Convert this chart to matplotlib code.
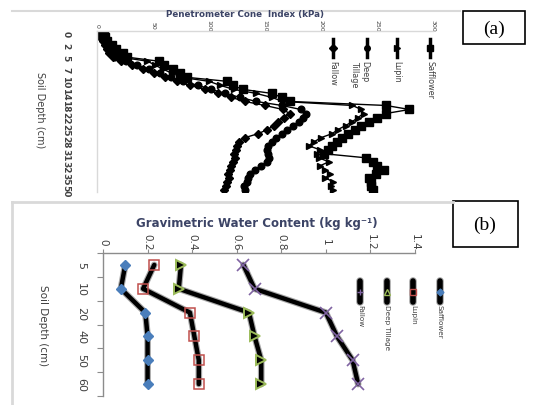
import matplotlib
matplotlib.use('Agg')
import matplotlib.pyplot as plt
import matplotlib.patheffects as pe
from matplotlib.lines import Line2D
from matplotlib.patches import Rectangle
import numpy as np

# ---------------- data ----------------
# Panel (a): penetrometer cone index (kPa) by depth category
depth_a_labels = ["0", "2", "5", "7", "10", "14", "18", "22", "25", "28", "31", "32", "35", "50"]
safflower_a = [6, 7, 9, 13, 17, 23, 27, 55, 60, 68, 74, 80, 116, 121, 130, 156, 165, 172, 258, 279,
               258, 250, 243, 236, 230, 224, 219, 214, 210, 206, 203, 240, 246, 250, 256, 249, 243, 245, 245, 246]
lupin_a = [4, 5, 7, 10, 13, 17, 21, 45, 52, 59, 67, 75, 100, 110, 122, 142, 156, 166, 228, 236,
           238, 233, 228, 222, 215, 210, 200, 194, 189, 199, 196, 198, 207, 199, 204, 208, 204, 211, 209, 211]
deep_a = [3, 4, 6, 8, 10, 13, 16, 26, 36, 46, 56, 66, 77, 90, 102, 114, 128, 142, 165, 182,
          187, 184, 180, 175, 170, 165, 160, 156, 153, 152, 153, 154, 152, 146, 141, 137, 135, 134, 131, 132]
fallow_a = [2, 3, 5, 7, 9, 11, 14, 21, 31, 41, 51, 61, 71, 83, 96, 108, 120, 132, 150, 166,
            172, 167, 162, 158, 152, 144, 132, 127, 125, 124, 122, 123, 121, 120, 119, 117, 118, 116, 115, 113]
cone_ticks = [0, 50, 100, 150, 200, 250, 300]

# Panel (b): gravimetric water content
depth_b = ["5", "10", "20", "40", "50", "60"]
safflower_b = [0.10, 0.08, 0.19, 0.20, 0.20, 0.20]
lupin_b = [0.23, 0.18, 0.39, 0.41, 0.43, 0.43]
deep_b = [0.35, 0.34, 0.655, 0.68, 0.71, 0.71]
fallow_b = [0.63, 0.68, 1.00, 1.05, 1.12, 1.145]
gwc_ticks = [0, 0.2, 0.4, 0.6, 0.8, 1.0, 1.2, 1.4]
gwc_tick_labels = ["0", "0.2", "0.4", "0.6", "0.8", "1", "1.2", "1.4"]

series_names = ["Safflower", "Lupin", "Deep Tillage", "Fallow"]

# ---------------- layout helpers ----------------
W, H = 545, 406
fig = plt.figure(figsize=(W / 100, H / 100), dpi=100)
PX = 72 / 100.0  # points per pixel


def fx(x):
    return x / W


def fy(y):
    return 1 - y / H


NARROW = ['Liberation Sans Narrow', 'DejaVu Sans']
GRAY = '#404040'
TITLE_C = '#3c4466'

# ---------------- panel (a) ----------------
axa = fig.add_axes([fx(97), fy(193), (433 - 97) / W, (193 - 32) / H])
ya = np.arange(len(safflower_a))
axa.plot(safflower_a, ya, color='k', lw=1.0, marker='s', ms=5.8, mfc='k', mec='k')
axa.plot(lupin_a, ya, color='k', lw=1.0, marker='>', ms=5.0, mfc='k', mec='k')
axa.plot(deep_a, ya, color='k', lw=1.0, marker='o', ms=4.8, mfc='k', mec='k')
axa.plot(fallow_a, ya, color='k', lw=1.0, marker='D', ms=4.0, mfc='k', mec='k')
axa.set_xlim(0, 300)
axa.set_ylim(len(ya) - 0.5, -0.5)
axa.xaxis.tick_top()
axa.set_xticks(cone_ticks)
axa.set_xticklabels([str(t) for t in cone_ticks], rotation=-90, va='center', ha='center',
                    fontsize=4.5, color=GRAY)
axa.tick_params(axis='x', length=0, pad=6 * PX)
axa.set_yticks(ya[::3])
axa.set_yticklabels(depth_a_labels, rotation=-90, va='center', ha='center', fontsize=6.5,
                    color=GRAY, family=NARROW, fontweight='bold')
axa.tick_params(axis='y', length=0, pad=31 * PX)
for s in ['right', 'bottom']:
    axa.spines[s].set_visible(False)
for s in ['top', 'left']:
    axa.spines[s].set_color('#d9d9d9')
    axa.spines[s].set_linewidth(1.0)

fig.text(fx(245), fy(15), "Penetrometer Cone  Index (kPa)", ha='center', va='center',
         fontsize=6.3, fontweight='bold', color=TITLE_C)
fig.text(fx(40), fy(110), "Soil Depth (cm)", rotation=-90, ha='center', va='center',
         fontsize=7, color=GRAY, family=NARROW)

# legend (a)
leg_a_x = [430, 397, 367, 333]
leg_a_markers = ['s', '>', 'o', 'D']
leg_a_text = ["Safflower", "Lupin", "Deep\nTillage", "Fallow"]
for x, m, t in zip(leg_a_x, leg_a_markers, leg_a_text):
    fig.add_artist(Line2D([fx(x), fx(x)], [fy(40), fy(58)], transform=fig.transFigure,
                          color='k', lw=2.5))
    fig.add_artist(Line2D([fx(x)], [fy(49)], transform=fig.transFigure, color='k',
                          marker=m, ms=4, mfc='k', mec='k', lw=0))
    tx = x if '\n' not in t else x - 7
    fig.text(fx(tx), fy(61), t, rotation=-90, ha='center', va='top', fontsize=5.8,
             color=GRAY, family=NARROW, multialignment='left')

# ---------------- panel (b) ----------------
axb = fig.add_axes([fx(103), fy(397), (415 - 103) / W, (397 - 254) / H])
yb = np.arange(len(depth_b))
shade = [pe.Stroke(linewidth=4.8, foreground='#a8a8a8'), pe.Normal()]
for vals in (safflower_b, lupin_b, deep_b, fallow_b):
    axb.plot(vals, yb, color='k', lw=3.2, path_effects=shade, solid_capstyle='round')
axb.plot(safflower_b, yb, lw=0, marker='D', ms=5.5, mfc='#4a7ebb', mec='#4a7ebb')
axb.plot(lupin_b, yb, lw=0, marker='s', ms=6.5, mfc='none', mec='#c0504d', mew=1.1)
axb.plot(deep_b, yb, lw=0, marker='>', ms=7.0, mfc='k', mec='#9bbb59', mew=1.4)
axb.plot(fallow_b, yb, lw=0, marker='x', ms=8, mec='#8064a2', mew=1.2)
axb.set_xlim(0, 1.4)
axb.set_ylim(len(yb) - 0.5, -0.5)
axb.xaxis.tick_top()
axb.set_xticks(gwc_ticks)
axb.set_xticklabels(gwc_tick_labels, rotation=-90, va='center', ha='center', fontsize=7.5,
                    color=GRAY)
axb.tick_params(axis='x', direction='out', length=3, color='#8c8c8c', pad=8 * PX)
axb.set_yticks(np.arange(-0.5, len(yb), 1.0))
axb.set_yticklabels([])
axb.set_yticks(yb, minor=True)
axb.set_yticklabels(depth_b, minor=True, rotation=-90, va='center', ha='center', fontsize=8,
                    color=GRAY, family=NARROW)
axb.tick_params(axis='y', which='major', direction='out', length=4, color='#8c8c8c')
axb.tick_params(axis='y', which='minor', length=0, pad=22 * PX)
for s in ['right', 'bottom']:
    axb.spines[s].set_visible(False)
for s in ['top', 'left']:
    axb.spines[s].set_color('#8c8c8c')
    axb.spines[s].set_linewidth(1.0)

fig.text(fx(257), fy(223), "Gravimetric Water Content (kg kg\u207b\u00b9)", ha='center', va='center',
         fontsize=8.5, fontweight='bold', color=TITLE_C)
fig.text(fx(43), fy(326), "Soil Depth (cm)", rotation=-90, ha='center', va='center',
         fontsize=7.5, color=GRAY, family=NARROW)

# legend (b)
leg_b_x = [440, 413, 387, 360]
leg_b_style = [dict(marker='D', ms=3.5, mfc='#4a7ebb', mec='#4a7ebb'),
               dict(marker='s', ms=4.5, mfc='none', mec='#c0504d', mew=1.0),
               dict(marker='^', ms=4, mfc='k', mec='#9bbb59', mew=1.0),
               dict(marker='+', ms=4, mec='#8064a2', mew=1.0)]
for x, st, t in zip(leg_b_x, leg_b_style, series_names):
    fig.add_artist(Line2D([fx(x), fx(x)], [fy(282), fy(303)], transform=fig.transFigure,
                          color='k', lw=4, solid_capstyle='round',
                          path_effects=[pe.Stroke(linewidth=5.5, foreground='#a8a8a8'), pe.Normal()]))
    fig.add_artist(Line2D([fx(x)], [fy(293)], transform=fig.transFigure, lw=0, **st))
    fig.text(fx(x), fy(305), t, rotation=-90, ha='center', va='top', fontsize=5.2,
             color=GRAY, family=NARROW)

# ---------------- frames and panel labels ----------------
fig.add_artist(Line2D([fx(12), fx(460)], [fy(12), fy(12)], transform=fig.transFigure,
                      color='#d9d9d9', lw=1.5))
fig.add_artist(Line2D([fx(12), fx(453)], [fy(203), fy(203)], transform=fig.transFigure,
                      color='#d9d9d9', lw=2))
fig.add_artist(Line2D([fx(12), fx(12)], [fy(203), fy(406)], transform=fig.transFigure,
                      color='#d9d9d9', lw=2))

fig.add_artist(Rectangle((fx(463), fy(45)), 62 / W, 33 / H, transform=fig.transFigure,
                         facecolor='white', edgecolor='k', lw=1.2))
fig.text(fx(494), fy(29), "(a)", ha='center', va='center', fontsize=14,
         family=['Liberation Serif', 'DejaVu Serif'])
fig.add_artist(Rectangle((fx(453), fy(248)), 65 / W, 46 / H, transform=fig.transFigure,
                         facecolor='white', edgecolor='k', lw=1.2))
fig.text(fx(485), fy(225), "(b)", ha='center', va='center', fontsize=14,
         family=['Liberation Serif', 'DejaVu Serif'])

fig.savefig('out.png', dpi=100)
